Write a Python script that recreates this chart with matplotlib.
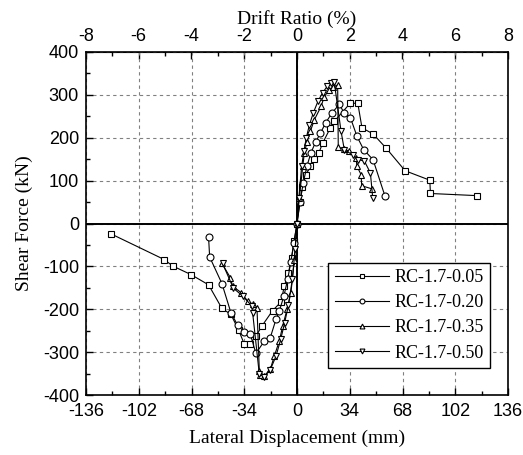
import matplotlib.pyplot as plt
import numpy as np
from matplotlib.ticker import MultipleLocator

plt.rcParams['axes.unicode_minus'] = False

# Skelettkurven (Verschiebung in mm, Querkraft in kN)
x05 = [-120, -85.6, -80.2, -68.4, -57, -48.4, -42.6, -37.6, -34, -30.1, -26.5, -22.6, -15.7, -10.3, -8.2,
       -5.5, -3.5, -1.8, 0, 1.8, 3.5, 5.8, 8.6, 11, 14, 16.6, 21.5, 24, 34.4, 39.2, 41.9, 49, 57.4, 69.7,
       85.6, 86, 116]
y05 = [-24, -84, -99, -119, -143, -198, -212, -249, -281, -280, -263, -239, -203, -183, -146,
       -115, -80, -40, 0, 50, 85, 114, 133, 150, 164, 188, 223, 238, 281, 280, 223, 209, 176, 123,
       101, 70, 65]

x20 = [-57, -56.3, -48.4, -42.6, -38.3, -34, -30.1, -26.5, -21, -17.2, -13.5, -11.4, -8.5, -6, -4, -2,
       0, 2, 4, 6.5, 9, 12, 15, 18.5, 22.6, 27.3, 30.5, 34.4, 38.7, 43, 49, 56.8]
y20 = [-32, -78, -140, -208, -237, -253, -258, -303, -274, -266, -223, -204, -170, -130, -90, -45,
       0, 50, 95, 135, 165, 190, 210, 235, 258, 278, 257, 247, 203, 172, 149, 63]

x35 = [-48.4, -43, -41.5, -36.1, -31.8, -28.6, -25.8, -24.3, -23.7, -21, -17.2, -14.6, -11.4, -9.2,
       -6.4, -3.9, -1.7, 0, 1.5, 3.7, 4.7, 6.5, 8.6, 11.2, 15.5, 17.6, 20.8, 23, 26.2, 26.6, 30.5,
       33.7, 38, 38.7, 41.3, 41.7, 48.2]
y35 = [-93, -126, -146, -161, -181, -188, -196, -343, -353, -355, -340, -309, -274, -239,
       -200, -161, -84, 0, 60, 133, 164, 191, 215, 242, 273, 296, 312, 318, 323, 178, 174,
       168, 153, 133, 114, 88, 81]

x50 = [-48, -41, -35, -29.2, -28.6, -24.3, -21, -17.2, -13.5, -10.5, -8, -5.5, -3, -1.2, 0, 1.2, 3,
       4.5, 6, 8, 10.5, 13.5, 16.5, 19.5, 22, 24, 28.4, 30.5, 35.9, 39, 43.4, 47.3, 48.8]
y50 = [-93, -151, -169, -192, -208, -351, -357, -341, -309, -270, -232, -190, -130, -60, 0, 60, 133,
       170, 200, 230, 258, 285, 305, 320, 328, 330, 215, 172, 160, 149, 146, 118, 60]

labels = ['RC-1.7-0.05', 'RC-1.7-0.20', 'RC-1.7-0.35', 'RC-1.7-0.50']
markers = ['s', 'o', '^', 'v']

fig = plt.figure(figsize=(5.23, 4.55), dpi=100)
ax = fig.add_axes([86/523, 60/455, 422/523, 343/455])

tickfont = 'Liberation Sans'
serif = 'Liberation Serif'

for xs, ys, lab, m in zip([x05, x20, x35, x50], [y05, y20, y35, y50], labels, markers):
    ax.plot(xs, ys, color='black', lw=0.8, marker=m, ms=5, mfc='white', mec='black', mew=0.8,
            label=lab, zorder=3)

ax.axhline(0, color='black', lw=1.4, zorder=2)
ax.axvline(0, color='black', lw=1.4, zorder=2)

ax.set_xlim(-136, 136)
ax.set_ylim(-400, 400)
ax.xaxis.set_major_locator(MultipleLocator(34))
ax.xaxis.set_minor_locator(MultipleLocator(17))
ax.yaxis.set_major_locator(MultipleLocator(100))
ax.yaxis.set_minor_locator(MultipleLocator(50))
ax.tick_params(which='both', direction='in', top=False, right=False)
ax.tick_params(which='major', length=5, width=1)
ax.tick_params(which='minor', length=3, width=1)
ax.tick_params(axis='x', pad=6)
ax.tick_params(axis='y', pad=5)
ax.grid(True, which='major', ls=(0, (3, 3)), color='gray', lw=0.8)
for lab in ax.get_xticklabels() + ax.get_yticklabels():
    lab.set_fontfamily(tickfont)
    lab.set_fontsize(13)
for sp in ax.spines.values():
    sp.set_linewidth(1.2)

sec = ax.secondary_xaxis('top', functions=(lambda x: x / 17, lambda d: d * 17))
sec.xaxis.set_major_locator(MultipleLocator(2))
sec.xaxis.set_minor_locator(MultipleLocator(1))
sec.tick_params(which='both', direction='in')
sec.tick_params(which='major', length=5, width=1, pad=5)
sec.tick_params(which='minor', length=3, width=1)
for lab in sec.get_xticklabels():
    lab.set_fontfamily(tickfont)
    lab.set_fontsize(13)
sec.set_xlabel('Drift Ratio (%)', fontfamily=serif, fontsize=14, labelpad=3)

ax.set_xlabel('Lateral Displacement (mm)', fontfamily=serif, fontsize=14, labelpad=7)
ax.set_ylabel('Shear Force (kN)', fontfamily=serif, fontsize=14, labelpad=7)

leg = ax.legend(loc='lower right', bbox_to_anchor=(0.957, 0.079), prop={'family': serif, 'size': 13},
                fancybox=False, edgecolor='black', framealpha=1, handlelength=3, borderpad=0.35,
                labelspacing=0.45, handletextpad=0.3, markerscale=0.7, borderaxespad=0)
leg.get_frame().set_linewidth(1)

fig.savefig('out.png', dpi=100)
